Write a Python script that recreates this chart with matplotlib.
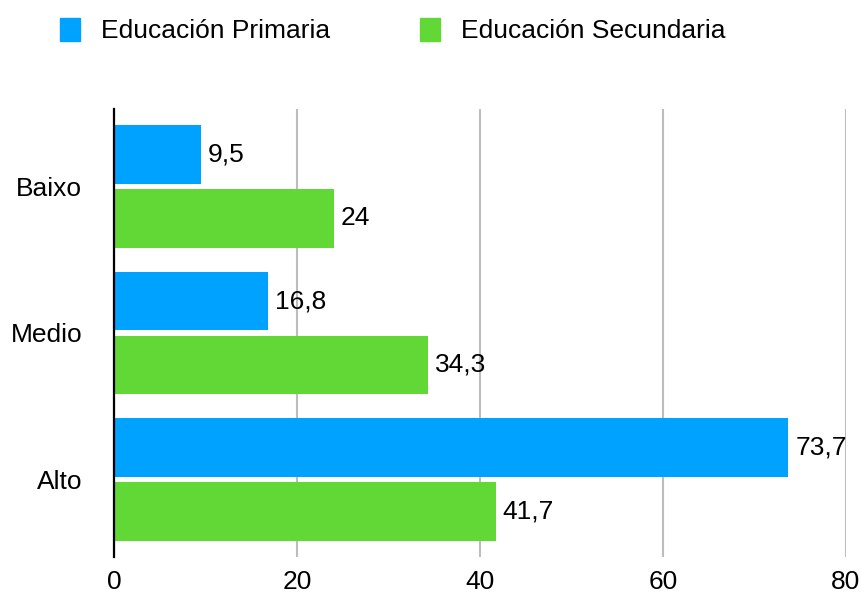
import matplotlib.pyplot as plt
from matplotlib.patches import Patch
import numpy as np

plt.rcParams['font.family'] = ['Liberation Sans', 'DejaVu Sans']

categorias = ['Baixo', 'Medio', 'Alto']
primaria = [9.5, 16.8, 73.7]
secundaria = [24, 34.3, 41.7]
series = ['Educación Primaria', 'Educación Secundaria']
ticks_x = [0, 20, 40, 60, 80]

azul = '#00A2FF'
verde = '#61D836'
fs = 19

fig = plt.figure(figsize=(8.62, 5.92), dpi=100)
ax = fig.add_axes([0.1323, 0.0591, 0.8491, 0.7568])

y = np.arange(len(categorias))
alto = 0.40
off = 0.2175

b1 = ax.barh(y - off, primaria, height=alto, color=azul, zorder=3)
b2 = ax.barh(y + off, secundaria, height=alto, color=verde, zorder=3)

fmt = lambda v: ('%g' % v).replace('.', ',')
ax.bar_label(b1, labels=[fmt(v) for v in primaria], padding=5, fontsize=fs)
ax.bar_label(b2, labels=[fmt(v) for v in secundaria], padding=5, fontsize=fs)

ax.set_xlim(0, 80)
ax.set_ylim(2.528, -0.528)
ax.set_xticks(ticks_x)
ax.set_xticklabels([str(t) for t in ticks_x])
ax.set_yticks(y)
ax.set_yticklabels(categorias)
ax.tick_params(axis='both', length=0, labelsize=fs)
ax.tick_params(axis='x', pad=9)
ax.tick_params(axis='y', pad=23)

ax.grid(axis='x', color='#BDBDBD', linewidth=1.5, zorder=0)
for s in ['top', 'right', 'bottom']:
    ax.spines[s].set_visible(False)
ax.spines['left'].set_linewidth(1.6)
ax.spines['left'].set_color('black')
ax.spines['left'].set_zorder(4)

handles = [Patch(color=azul), Patch(color=verde)]
fig.legend(handles, series, loc='upper left', bbox_to_anchor=(0.042, 1.01),
           ncol=2, frameon=False, fontsize=fs, handlelength=0.76,
           handleheight=0.95, handletextpad=0.8, columnspacing=3.4)

fig.savefig('out.png', dpi=100)
